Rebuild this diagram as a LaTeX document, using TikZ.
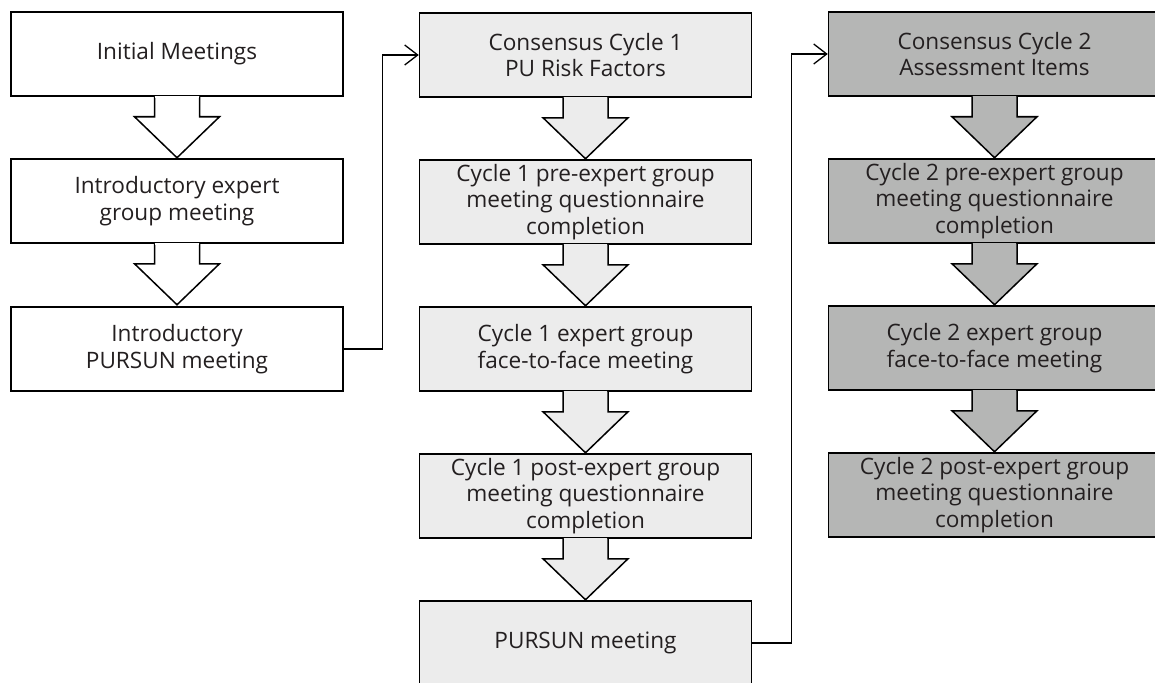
\documentclass[tikz,border=0pt]{standalone}
\usepackage{fontspec}
\setmainfont{Open Sans}
\usetikzlibrary{arrows.meta,calc}
\definecolor{txt}{HTML}{231F20}
\definecolor{fillA}{HTML}{ECECEC}
\definecolor{fillB}{HTML}{B5B6B5}
\newcommand\myblockarrow[2]{%
  \filldraw[fill=#2, draw=black, line width=1.5pt, line join=miter]
    ($(#1.south)+(-22.5,0)$) -- ++(0,20) -- ++(-20,0) -- ($(#1.south)+(0,61)$)
    -- ($(#1.south)+(42.5,20)$) -- ++(-20,0) -- ++(0,-20);
  \fill[#2] ($(#1.south)+(-21.7,-1.2)$) rectangle ($(#1.south)+(21.7,1)$);
}
\begin{document}
\begin{tikzpicture}[x=1pt,y=-1pt,
  box/.style={draw=black, line width=1.5pt, minimum width=332pt, minimum height=84pt,
    inner sep=0pt, align=center, font=\fontsize{22.6}{26.7}\selectfont, text=txt},
  conn/.style={draw=black, line width=1.3pt,
    -{Straight Barb[length=13pt,width=20pt]}},
]
\clip (0,0) rectangle (1155,682);
\fill[white] (0,0) rectangle (1155,682);
% column 1
\node[box, fill=white] (i1) at (177,54)  {Initial Meetings};
\node[box, fill=white] (i2) at (177,201) {Introductory expert\\group meeting};
\node[box, fill=white] (i3) at (177,349) {Introductory\\PURSUN meeting};
% column 2
\node[box, fill=fillA] (c1) at (585.5,55)  {Consensus Cycle 1\\PU Risk Factors};
\node[box, fill=fillA] (c2) at (585.5,202) {Cycle 1 pre-expert group\\meeting questionnaire\\completion};
\node[box, fill=fillA] (c3) at (585.5,349) {Cycle 1 expert group\\face-to-face meeting};
\node[box, fill=fillA] (c4) at (585.5,496) {Cycle 1 post-expert group\\meeting questionnaire\\completion};
\node[box, fill=fillA] (c5) at (585.5,643) {PURSUN meeting};
% column 3
\node[box, fill=fillB] (d1) at (994.5,54)  {Consensus Cycle 2\\Assessment Items};
\node[box, fill=fillB] (d2) at (994.5,201) {Cycle 2 pre-expert group\\meeting questionnaire\\completion};
\node[box, fill=fillB] (d3) at (994.5,348) {Cycle 2 expert group\\face-to-face meeting};
\node[box, fill=fillB] (d4) at (994.5,495) {Cycle 2 post-expert group\\meeting questionnaire\\completion};
% block arrows
\myblockarrow{i1}{white}
\myblockarrow{i2}{white}
\myblockarrow{c1}{fillA}
\myblockarrow{c2}{fillA}
\myblockarrow{c3}{fillA}
\myblockarrow{c4}{fillA}
\myblockarrow{d1}{fillB}
\myblockarrow{d2}{fillB}
\myblockarrow{d3}{fillB}
% connectors
\draw[conn] (i3.east) -- ++(39,0) |- (c1.west);
\draw[conn] (c5.east) -- ++(39,0) |- (d1.west);
\end{tikzpicture}
\end{document}
